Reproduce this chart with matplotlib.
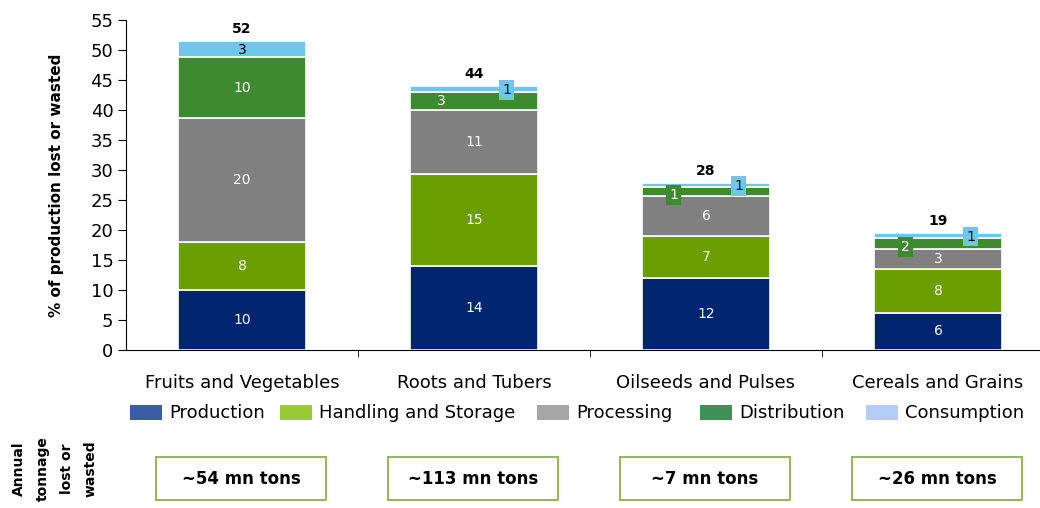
import numpy as np
import matplotlib
matplotlib.use("Agg")
import matplotlib.pyplot as plt
from matplotlib.patches import Rectangle

plt.rcParams["font.family"] = ["DejaVu Sans"]

categories = ["Fruits and Vegetables", "Roots and Tubers", "Oilseeds and Pulses", "Cereals and Grains"]
stages = ["Production", "Handling and Storage", "Processing", "Distribution", "Consumption"]

# segment heights as drawn (percent of production)
production = [10, 14, 12, 6.2]
handling = [8, 15.3, 7, 7.3]
processing = [20.7, 10.7, 6.7, 3.3]
distribution = [10.1, 3, 1.5, 1.9]
consumption = [2.7, 1, 0.6, 0.8]

# printed labels
production_lbl = ["10", "14", "12", "6"]
handling_lbl = ["8", "15", "7", "8"]
processing_lbl = ["20", "11", "6", "3"]
distribution_lbl = ["10", "3", "1", "2"]
consumption_lbl = ["3", "1", "1", "1"]
totals = ["52", "44", "28", "19"]
tonnage = ["~54 mn tons", "~113 mn tons", "~7 mn tons", "~26 mn tons"]

bar_colors = ["#002570", "#6b9e00", "#808080", "#3d8a2f", "#6ec6e8"]
legend_colors = ["#3b5ca8", "#99cc33", "#a6a6a6", "#3f9157", "#b3cdf7"]

W, H = 1040, 508
fig = plt.figure(figsize=(W / 100, H / 100), dpi=100)
ax = fig.add_axes([126 / W, 158 / H, 914 / W, 330 / H])

x = np.arange(len(categories))
width = 0.55
series = [production, handling, processing, distribution, consumption]
labels = [production_lbl, handling_lbl, processing_lbl, distribution_lbl, consumption_lbl]
bottom = np.zeros(len(categories))
mids = []
for vals, col in zip(series, bar_colors):
    ax.bar(x, vals, width, bottom=bottom, color=col, edgecolor="white", linewidth=1.2)
    mids.append(bottom + np.array(vals) / 2)
    bottom = bottom + np.array(vals)

# labels inside large segments
for k in range(3):
    for i in range(len(categories)):
        ax.text(x[i], mids[k][i], labels[k][i], ha="center", va="center", color="white", fontsize=10)

# distribution labels
ax.text(x[0], mids[3][0], distribution_lbl[0], ha="center", va="center", color="white", fontsize=10)
ax.text(x[1] - 0.14, mids[3][1], distribution_lbl[1], ha="center", va="center", color="white", fontsize=10)
for i in [2, 3]:
    ax.text(x[i] - 0.14, mids[3][i] - 0.6, distribution_lbl[i], ha="center", va="center", color="white",
            fontsize=10, bbox=dict(boxstyle="square,pad=0.2", fc=bar_colors[3], ec="none"))

# consumption labels
ax.text(x[0], mids[4][0] - 0.2, consumption_lbl[0], ha="center", va="center", color="black", fontsize=10)
for i in [1, 2, 3]:
    ax.text(x[i] + 0.14, mids[4][i] - 0.2, consumption_lbl[i], ha="center", va="center", color="black",
            fontsize=10, bbox=dict(boxstyle="square,pad=0.2", fc=bar_colors[4], ec="none"))

# totals
for i in range(len(categories)):
    ax.text(x[i], bottom[i] + 0.8, totals[i], ha="center", va="bottom", fontsize=10, fontweight="bold")

ax.set_ylim(0, 55)
ax.set_yticks(np.arange(0, 56, 5))
ax.set_xlim(-0.5, -0.5 + 914 / 232)
ax.set_xticks(x)
ax.set_xticklabels(categories, fontsize=13)
ax.set_xticks(x[:-1] + 0.5, minor=True)
ax.tick_params(axis="x", which="major", length=0, pad=17)
ax.tick_params(axis="x", which="minor", length=5, direction="out")
ax.tick_params(axis="y", labelsize=13, length=6, direction="out", pad=3)
ax.spines["top"].set_visible(False)
ax.spines["right"].set_visible(False)
ax.set_ylabel("% of production lost or wasted", fontsize=11, fontweight="bold", labelpad=19)

# legend, placed by hand
legend_x = [130, 280, 537, 700, 866]
for lx, c, s in zip(legend_x, legend_colors, stages):
    fig.patches.append(Rectangle((lx / W, 1 - 420 / H), 32 / W, 15 / H, transform=fig.transFigure,
                                 fc=c, ec="none"))
    fig.text((lx + 39) / W, 1 - 413 / H, s, ha="left", va="center", fontsize=13)

# tonnage boxes
for i, t in enumerate(tonnage):
    cx = 241 + 232 * i
    fig.patches.append(Rectangle(((cx - 85) / W, 1 - 500 / H), 170 / W, 43 / H,
                                 transform=fig.transFigure, fc="white", ec="#8db04a", lw=1.3))
    fig.text(cx / W, 1 - 479 / H, t, ha="center", va="center", fontsize=12, fontweight="bold")

fig.text(55 / W, 1 - 469 / H, "Annual\ntonnage\nlost or\nwasted", rotation=90, ha="center",
         va="center", fontsize=10, fontweight="bold", linespacing=1.9, multialignment="center")

fig.savefig("out.png", dpi=100)
